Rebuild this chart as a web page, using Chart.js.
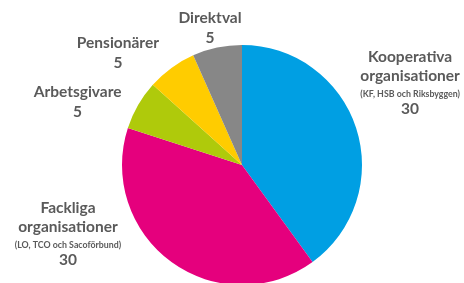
<!DOCTYPE html>
<html>
<head>
<meta charset="utf-8">
<script src="https://cdn.jsdelivr.net/npm/chart.js@4.4.1/dist/chart.umd.min.js"></script>
<style>
  html, body { margin: 0; padding: 0; background: #ffffff; }
  #wrap { width: 464px; height: 283px; position: relative; }
</style>
</head>
<body>
<div id="wrap"><canvas id="c" width="464" height="283"></canvas></div>
<script>
// ---- data ----
const categories = ["Kooperativa organisationer", "Fackliga organisationer", "Arbetsgivare", "Pensionärer", "Direktval"];
const seats = [30, 30, 5, 5, 5];
const titleLines = [
  ["Kooperativa", "organisationer"],
  ["Fackliga", "organisationer"],
  ["Arbetsgivare"],
  ["Pensionärer"],
  ["Direktval"]
];
const subLines = ["(KF, HSB och Riksbyggen)", "(LO, TCO och Sacoförbund)", "", "", ""];
const colors = ["#009FE3", "#E5007D", "#AFCA0B", "#FFCC00", "#878787"];

// label placement: angle (deg clockwise from top) and distance (x outer radius) of first baseline
const labelPlacement = [
  { angle: 58.5, dist: 1.643 },
  { angle: 254.6, dist: 1.504 },
  { angle: 292.5, dist: 1.483 },
  { angle: 313.3, dist: 1.421 },
  { angle: 347.3, dist: 1.213 }
];

const FONT = "Lato, 'Open Sans', sans-serif";
const TEXT_COLOR = "#5a5a5a";

const labelPlugin = {
  id: 'sliceLabels',
  afterDatasetsDraw(chart) {
    const ctx = chart.ctx;
    const meta = chart.getDatasetMeta(0);
    ctx.save();
    ctx.fillStyle = TEXT_COLOR;
    ctx.textAlign = 'center';
    ctx.textBaseline = 'alphabetic';
    meta.data.forEach((arc, i) => {
      const p = labelPlacement[i];
      const a = p.angle * Math.PI / 180;
      const r = arc.outerRadius * p.dist;
      const x = arc.x + Math.sin(a) * r;
      let y = arc.y - Math.cos(a) * r;
      titleLines[i].forEach((t, k) => {
        if (k > 0) y += 19.5;
        ctx.font = "bold 15.5px " + FONT;
        ctx.fillText(t, x, y);
      });
      if (subLines[i]) {
        y += 15.5;
        ctx.font = "bold 8.8px " + FONT;
        ctx.fillText(subLines[i], x, y);
        y += 17;
      } else {
        y += 20;
      }
      ctx.font = "bold 15.5px " + FONT;
      ctx.fillText(String(chart.data.datasets[0].data[i]), x, y);
    });
    ctx.restore();
  }
};

new Chart(document.getElementById('c'), {
  type: 'pie',
  data: {
    labels: categories,
    datasets: [{
      data: seats,
      backgroundColor: colors,
      borderWidth: 0,
      radius: 120
    }]
  },
  options: {
    responsive: false,
    animation: false,
    layout: { padding: { left: 122, right: 102, top: 47, bottom: 0 } },
    plugins: {
      legend: { display: false },
      tooltip: { enabled: false }
    }
  },
  plugins: [labelPlugin]
});
</script>
</body>
</html>
